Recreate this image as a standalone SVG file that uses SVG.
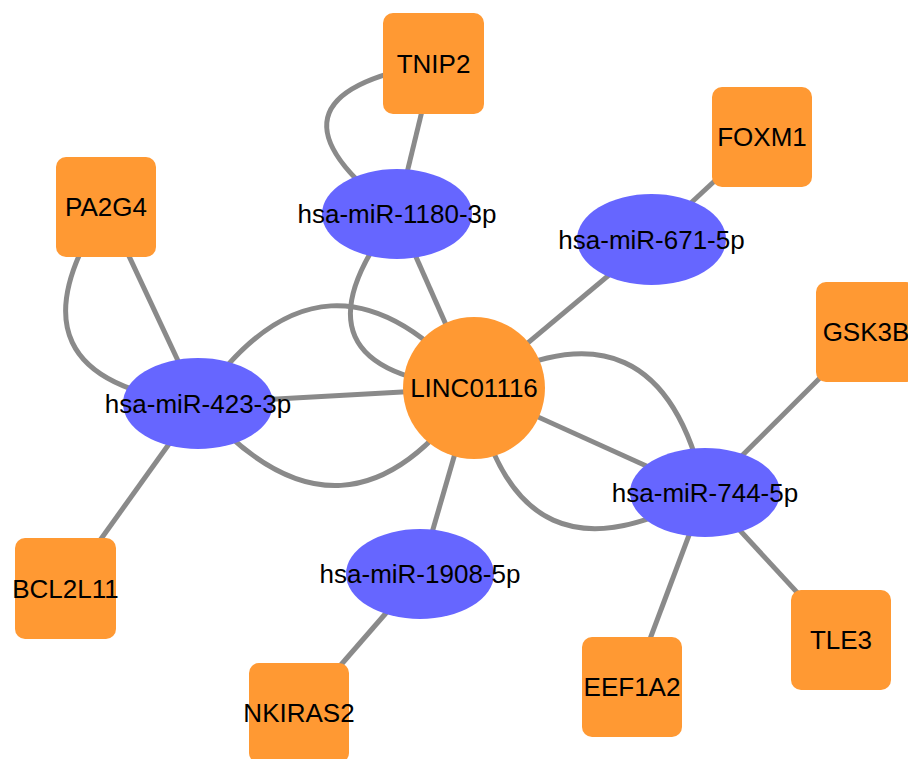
<svg xmlns="http://www.w3.org/2000/svg" width="908" height="759" viewBox="0 0 908 759">
<style>
.e{fill:none;stroke:#8a8a8a;stroke-width:5}
.g{fill:#FF9933}
.m{fill:#6666FF}
text{font-family:"Liberation Sans",Arial,sans-serif;font-size:26px;fill:#000;text-anchor:middle}
</style>
<rect width="908" height="759" fill="#fff"/>
<g id="edges">
<line class="e" x1="433.5" y1="63.5" x2="397" y2="214"/>
<path class="e" d="M433.5,63.5 Q240,96.5 397,214"/>
<line class="e" x1="397" y1="214" x2="474" y2="388"/>
<path class="e" d="M397,214 Q274.5,372 474,388"/>
<line class="e" x1="651.5" y1="239.5" x2="762" y2="137"/>
<line class="e" x1="651.5" y1="239.5" x2="474" y2="388"/>
<line class="e" x1="106" y1="207" x2="198" y2="403.5"/>
<path class="e" d="M106,207 Q-7.5,379.6 198,403.5"/>
<line class="e" x1="198" y1="403.5" x2="474" y2="388"/>
<path class="e" d="M198,403.5 Q326,216 474,388"/>
<path class="e" d="M198,403.5 Q346,575 474,388"/>
<line class="e" x1="198" y1="403.5" x2="65.5" y2="588.5"/>
<line class="e" x1="474" y1="388" x2="705" y2="492.5"/>
<path class="e" d="M474,388 Q659.5,285 705,492.5"/>
<path class="e" d="M474,388 Q517,600 705,492.5"/>
<line class="e" x1="474" y1="388" x2="420" y2="574"/>
<line class="e" x1="420" y1="574" x2="299" y2="713"/>
<line class="e" x1="705" y1="492.5" x2="866" y2="332"/>
<line class="e" x1="705" y1="492.5" x2="841" y2="640"/>
<line class="e" x1="705" y1="492.5" x2="632" y2="687"/>
</g>
<g id="TNIP2"><rect class="g" x="383" y="13" width="101" height="101" rx="10"/><text x="433.5" y="73">TNIP2</text></g>
<g id="PA2G4"><rect class="g" x="56" y="157" width="100" height="100" rx="10"/><text x="106" y="216">PA2G4</text></g>
<g id="FOXM1"><rect class="g" x="712" y="87" width="100" height="100" rx="10"/><text x="762" y="146">FOXM1</text></g>
<g id="GSK3B"><rect class="g" x="816" y="282" width="100" height="100" rx="10"/><text x="866" y="341">GSK3B</text></g>
<g id="BCL2L11"><rect class="g" x="15" y="538" width="101" height="101" rx="10"/><text x="65.5" y="598">BCL2L11</text></g>
<g id="NKIRAS2"><rect class="g" x="249" y="663" width="100" height="100" rx="10"/><text x="299" y="722">NKIRAS2</text></g>
<g id="EEF1A2"><rect class="g" x="582" y="637" width="100" height="100" rx="10"/><text x="632" y="696">EEF1A2</text></g>
<g id="TLE3"><rect class="g" x="791" y="590" width="100" height="100" rx="10"/><text x="841" y="649">TLE3</text></g>
<g id="LINC01116"><circle class="g" cx="474" cy="388" r="71"/><text x="474" y="397">LINC01116</text></g>
<g id="hsa-miR-1180-3p"><ellipse class="m" cx="397" cy="214" rx="75" ry="45"/><text x="397" y="223">hsa-miR-1180-3p</text></g>
<g id="hsa-miR-671-5p"><ellipse class="m" cx="651.5" cy="239.5" rx="74.5" ry="45.5"/><text x="651.5" y="248.5">hsa-miR-671-5p</text></g>
<g id="hsa-miR-423-3p"><ellipse class="m" cx="198" cy="403.5" rx="75" ry="45.5"/><text x="198" y="412.5">hsa-miR-423-3p</text></g>
<g id="hsa-miR-1908-5p"><ellipse class="m" cx="420" cy="574" rx="74" ry="45"/><text x="420" y="583">hsa-miR-1908-5p</text></g>
<g id="hsa-miR-744-5p"><ellipse class="m" cx="705" cy="492.5" rx="75" ry="44.5"/><text x="705" y="501.5">hsa-miR-744-5p</text></g>
</svg>
